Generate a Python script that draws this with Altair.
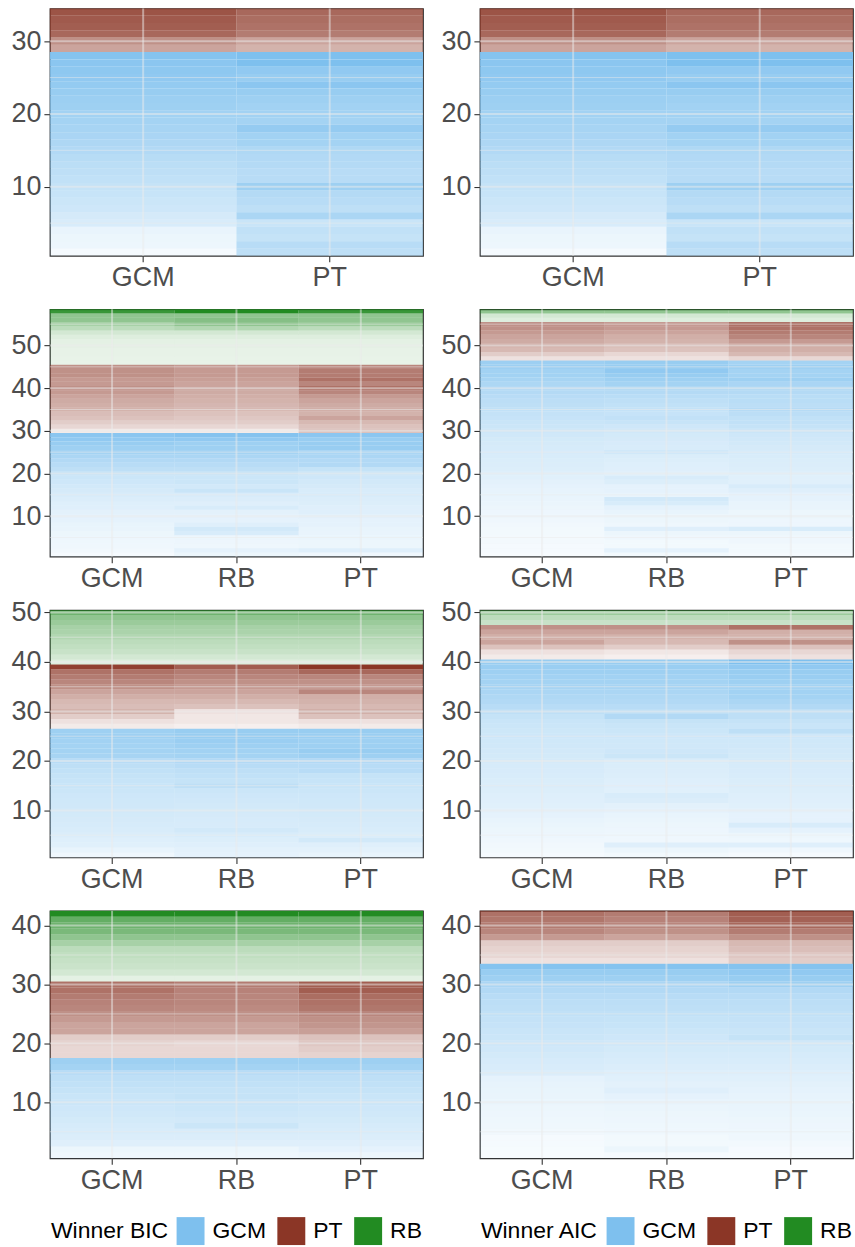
import altair as alt
import pandas as pd

FONT = "Liberation Sans"
WINNER_ORDER = ["GCM", "PT", "RB"]
WINNER_COLORS = ["#7EC0EE", "#8B3626", "#228B22"]
LABEL_GREY = "#4D4D4D"
FRAME = "#333333"
GRID = "#EBEBEB"

PANEL_W = 374
PANEL_H = 248

TWO = ["GCM", "PT"]
THREE = ["GCM", "RB", "PT"]

# Winner counts per panel, in the order GCM, PT, RB (participants stacked bottom-up)
bic_2m_counts = [28, 6, 0]
aic_2m_counts = [28, 6, 0]
bic_3a_counts = [29, 16, 13]
aic_3a_counts = [46, 9, 3]
bic_3b_counts = [26, 13, 11]
aic_3b_counts = [40, 7, 3]
bic_3c_counts = [17, 13, 12]
aic_3c_counts = [33, 9, 0]

# Cell weights (alpha), participant 1 upwards, one list per model column
bic_2m_gcm = [0.08, 0.14, 0.15, 0.17, 0.30, 0.33, 0.38, 0.40, 0.43, 0.45,
              0.48, 0.50, 0.53, 0.56, 0.60, 0.63, 0.66, 0.68, 0.70, 0.72,
              0.75, 0.77, 0.80, 0.83, 0.85, 0.88, 0.90, 0.95,
              0.45, 0.55, 0.75, 0.80, 0.82, 0.85]
bic_2m_pt = [0.50, 0.55, 0.45, 0.48, 0.42, 0.65, 0.50, 0.55, 0.58, 0.75,
             0.55, 0.55, 0.58, 0.60, 0.62, 0.70, 0.72, 0.82, 0.70, 0.72,
             0.72, 0.75, 0.80, 0.90, 0.80, 0.85, 1.00, 1.00,
             0.38, 0.45, 0.65, 0.70, 0.72, 0.75]
aic_2m_gcm = list(bic_2m_gcm)
aic_2m_pt = list(bic_2m_pt)

bic_3a_gcm = [0.08, 0.11, 0.12, 0.13, 0.14, 0.15, 0.17, 0.18, 0.20, 0.20,
              0.22, 0.25, 0.26, 0.28, 0.30, 0.33, 0.35, 0.38, 0.40, 0.45,
              0.50, 0.55, 0.60, 0.65, 0.70, 0.75, 0.80, 0.85, 0.90,
              0.10, 0.20, 0.25, 0.30, 0.33, 0.38, 0.40, 0.42, 0.45, 0.50,
              0.55, 0.50, 0.50, 0.55, 0.55, 0.55,
              0.10, 0.10, 0.11, 0.11, 0.12, 0.12, 0.15, 0.20, 0.30, 0.40,
              0.50, 0.50, 0.90]
bic_3a_rb = [0.15, 0.20, 0.13, 0.14, 0.15, 0.30, 0.35, 0.25, 0.20, 0.20,
             0.22, 0.30, 0.25, 0.28, 0.30, 0.42, 0.35, 0.40, 0.40, 0.45,
             0.50, 0.55, 0.60, 0.65, 0.70, 0.75, 0.75, 0.85, 0.95,
             0.10, 0.20, 0.25, 0.28, 0.30, 0.35, 0.36, 0.38, 0.40, 0.42,
             0.45, 0.45, 0.48, 0.50, 0.50, 0.50,
             0.10, 0.10, 0.11, 0.11, 0.12, 0.12, 0.15, 0.20, 0.35, 0.50,
             0.55, 0.50, 1.00]
bic_3a_pt = [0.12, 0.25, 0.15, 0.15, 0.16, 0.17, 0.18, 0.20, 0.20, 0.22,
             0.25, 0.25, 0.27, 0.28, 0.30, 0.30, 0.33, 0.35, 0.38, 0.40,
             0.45, 0.60, 0.60, 0.65, 0.65, 0.80, 0.80, 0.80, 0.90,
             0.30, 0.30, 0.35, 0.45, 0.38, 0.40, 0.42, 0.45, 0.50, 0.60,
             0.70, 0.60, 0.70, 0.65, 0.65, 0.60,
             0.10, 0.10, 0.11, 0.11, 0.12, 0.12, 0.15, 0.20, 0.30, 0.45,
             0.50, 0.50, 0.90]

aic_3a_gcm = [0.06, 0.08, 0.08, 0.09, 0.09, 0.10, 0.10, 0.11, 0.12, 0.13,
              0.14, 0.15, 0.16, 0.17, 0.18, 0.19, 0.20, 0.22, 0.24, 0.26,
              0.27, 0.28, 0.29, 0.30, 0.31, 0.32, 0.33, 0.34, 0.36, 0.38,
              0.40, 0.42, 0.44, 0.46, 0.48, 0.50, 0.52, 0.55, 0.58, 0.60,
              0.64, 0.68, 0.72, 0.72, 0.76, 0.76,
              0.15, 0.25, 0.35, 0.40, 0.42, 0.45, 0.50, 0.55, 0.55,
              0.15, 0.20, 0.50]
aic_3a_rb = [0.10, 0.20, 0.10, 0.10, 0.12, 0.15, 0.25, 0.13, 0.15, 0.15,
             0.18, 0.20, 0.30, 0.35, 0.18, 0.20, 0.20, 0.27, 0.30, 0.24,
             0.25, 0.26, 0.27, 0.29, 0.36, 0.30, 0.31, 0.33, 0.34, 0.36,
             0.38, 0.43, 0.47, 0.44, 0.46, 0.48, 0.50, 0.54, 0.58, 0.62,
             0.70, 0.75, 0.80, 0.85, 0.80, 0.80,
             0.15, 0.20, 0.30, 0.35, 0.38, 0.40, 0.45, 0.50, 0.50,
             0.15, 0.20, 0.50]
aic_3a_pt = [0.08, 0.10, 0.10, 0.12, 0.12, 0.15, 0.30, 0.14, 0.14, 0.15,
             0.15, 0.17, 0.18, 0.20, 0.20, 0.25, 0.30, 0.24, 0.24, 0.26,
             0.27, 0.28, 0.29, 0.30, 0.32, 0.33, 0.35, 0.36, 0.38, 0.41,
             0.45, 0.48, 0.48, 0.52, 0.57, 0.52, 0.54, 0.54, 0.58, 0.62,
             0.66, 0.75, 0.70, 0.70, 0.75, 0.70,
             0.20, 0.35, 0.40, 0.45, 0.50, 0.60, 0.65, 0.70, 0.70,
             0.15, 0.20, 0.50]

bic_3b_gcm = [0.12, 0.18, 0.24, 0.26, 0.28, 0.30, 0.32, 0.33, 0.34, 0.35,
              0.36, 0.37, 0.38, 0.40, 0.42, 0.43, 0.45, 0.48, 0.50, 0.55,
              0.68, 0.70, 0.70, 0.72, 0.75, 0.75,
              0.10, 0.15, 0.25, 0.38, 0.33, 0.35, 0.40, 0.45, 0.55, 0.60,
              0.65, 0.70, 0.95,
              0.15, 0.20, 0.25, 0.28, 0.30, 0.35, 0.38, 0.40, 0.45, 0.50,
              0.65]
bic_3b_rb = [0.20, 0.22, 0.25, 0.27, 0.30, 0.35, 0.31, 0.32, 0.33, 0.34,
             0.35, 0.36, 0.38, 0.40, 0.50, 0.45, 0.48, 0.50, 0.55, 0.60,
             0.70, 0.72, 0.75, 0.78, 0.80, 0.80,
             0.08, 0.12, 0.12, 0.15, 0.30, 0.35, 0.40, 0.45, 0.50, 0.55,
             0.60, 0.65, 0.80,
             0.15, 0.20, 0.25, 0.28, 0.30, 0.35, 0.38, 0.40, 0.45, 0.50,
             0.65]
bic_3b_pt = [0.18, 0.22, 0.25, 0.35, 0.28, 0.30, 0.32, 0.33, 0.34, 0.35,
             0.36, 0.37, 0.38, 0.40, 0.42, 0.43, 0.45, 0.55, 0.55, 0.60,
             0.75, 0.80, 0.75, 0.75, 0.78, 0.80,
             0.10, 0.15, 0.30, 0.40, 0.35, 0.38, 0.40, 0.60, 0.50, 0.55,
             0.60, 0.75, 1.00,
             0.15, 0.20, 0.25, 0.28, 0.30, 0.35, 0.38, 0.40, 0.45, 0.50,
             0.65]

aic_3b_gcm = [0.08, 0.10, 0.11, 0.12, 0.14, 0.15, 0.16, 0.18, 0.20, 0.22,
              0.24, 0.25, 0.26, 0.27, 0.28, 0.29, 0.30, 0.31, 0.32, 0.33,
              0.34, 0.35, 0.36, 0.37, 0.38, 0.39, 0.40, 0.42, 0.45, 0.50,
              0.55, 0.60, 0.62, 0.65, 0.68, 0.70, 0.72, 0.75, 0.78, 0.80,
              0.10, 0.15, 0.30, 0.45, 0.40, 0.45, 0.55,
              0.25, 0.30, 0.45]
aic_3b_rb = [0.10, 0.15, 0.25, 0.12, 0.13, 0.14, 0.15, 0.16, 0.18, 0.20,
             0.22, 0.28, 0.30, 0.24, 0.25, 0.26, 0.27, 0.28, 0.29, 0.30,
             0.40, 0.38, 0.36, 0.37, 0.38, 0.40, 0.42, 0.45, 0.60, 0.50,
             0.55, 0.60, 0.62, 0.65, 0.68, 0.70, 0.72, 0.75, 0.78, 0.80,
             0.08, 0.12, 0.25, 0.35, 0.38, 0.45, 0.55,
             0.25, 0.30, 0.45]
aic_3b_pt = [0.08, 0.12, 0.25, 0.13, 0.15, 0.20, 0.30, 0.20, 0.20, 0.22,
             0.24, 0.25, 0.26, 0.27, 0.28, 0.29, 0.30, 0.31, 0.32, 0.33,
             0.34, 0.35, 0.36, 0.37, 0.38, 0.50, 0.42, 0.45, 0.50, 0.50,
             0.60, 0.65, 0.70, 0.72, 0.70, 0.75, 0.78, 0.80, 0.85, 1.00,
             0.15, 0.20, 0.30, 0.55, 0.38, 0.40, 0.70,
             0.25, 0.30, 0.45]

bic_3c_gcm = [0.12, 0.15, 0.25, 0.28, 0.30, 0.32, 0.34, 0.36, 0.38, 0.40,
              0.42, 0.45, 0.48, 0.50, 0.55, 0.70, 0.75,
              0.20, 0.20, 0.22, 0.25, 0.45, 0.45, 0.50, 0.55, 0.60, 0.62,
              0.65, 0.70, 0.70,
              0.12, 0.20, 0.24, 0.26, 0.28, 0.30, 0.40, 0.50, 0.60, 0.65,
              0.70, 1.00]
bic_3c_rb = [0.12, 0.15, 0.25, 0.28, 0.30, 0.40, 0.35, 0.38, 0.40, 0.42,
             0.45, 0.45, 0.48, 0.50, 0.55, 0.70, 0.75,
             0.20, 0.20, 0.20, 0.25, 0.45, 0.45, 0.50, 0.55, 0.58, 0.60,
             0.60, 0.62, 0.65,
             0.12, 0.20, 0.24, 0.26, 0.28, 0.30, 0.40, 0.50, 0.60, 0.65,
             0.70, 1.00]
bic_3c_pt = [0.15, 0.20, 0.25, 0.28, 0.30, 0.32, 0.34, 0.36, 0.38, 0.40,
             0.42, 0.45, 0.48, 0.50, 0.55, 0.70, 0.75,
             0.22, 0.25, 0.28, 0.30, 0.48, 0.52, 0.55, 0.60, 0.68, 0.70,
             0.72, 0.80, 0.80,
             0.12, 0.20, 0.24, 0.26, 0.28, 0.30, 0.40, 0.50, 0.60, 0.65,
             0.70, 1.00]

aic_3c_gcm = [0.06, 0.07, 0.08, 0.08, 0.11, 0.12, 0.13, 0.14, 0.15, 0.16,
              0.17, 0.18, 0.19, 0.20, 0.28, 0.30, 0.32, 0.34, 0.36, 0.38,
              0.40, 0.42, 0.44, 0.46, 0.48, 0.50, 0.52, 0.55, 0.60, 0.65,
              0.75, 0.80, 0.95,
              0.15, 0.20, 0.22, 0.25, 0.50, 0.60, 0.65, 0.68, 0.70]
aic_3c_rb = [0.08, 0.15, 0.10, 0.10, 0.12, 0.13, 0.14, 0.15, 0.16, 0.18,
             0.20, 0.25, 0.22, 0.24, 0.26, 0.28, 0.30, 0.32, 0.34, 0.36,
             0.38, 0.40, 0.43, 0.45, 0.48, 0.50, 0.52, 0.55, 0.60, 0.65,
             0.75, 0.80, 0.95,
             0.15, 0.20, 0.22, 0.25, 0.45, 0.55, 0.60, 0.62, 0.65]
aic_3c_pt = [0.07, 0.08, 0.10, 0.12, 0.13, 0.14, 0.15, 0.16, 0.17, 0.18,
             0.19, 0.20, 0.22, 0.24, 0.26, 0.28, 0.30, 0.32, 0.34, 0.36,
             0.45, 0.42, 0.44, 0.46, 0.48, 0.50, 0.52, 0.55, 0.60, 0.75,
             0.80, 0.85, 0.95,
             0.25, 0.28, 0.32, 0.35, 0.55, 0.65, 0.75, 0.78, 0.80]

PANELS = [
    (bic_2m_counts, TWO, {"GCM": bic_2m_gcm, "PT": bic_2m_pt}, None),
    (aic_2m_counts, TWO, {"GCM": aic_2m_gcm, "PT": aic_2m_pt}, None),
    (bic_3a_counts, THREE, {"GCM": bic_3a_gcm, "RB": bic_3a_rb, "PT": bic_3a_pt}, None),
    (aic_3a_counts, THREE, {"GCM": aic_3a_gcm, "RB": aic_3a_rb, "PT": aic_3a_pt}, None),
    (bic_3b_counts, THREE, {"GCM": bic_3b_gcm, "RB": bic_3b_rb, "PT": bic_3b_pt}, None),
    (aic_3b_counts, THREE, {"GCM": aic_3b_gcm, "RB": aic_3b_rb, "PT": aic_3b_pt}, None),
    (bic_3c_counts, THREE, {"GCM": bic_3c_gcm, "RB": bic_3c_rb, "PT": bic_3c_pt}, "Winner BIC"),
    (aic_3c_counts, THREE, {"GCM": aic_3c_gcm, "RB": aic_3c_rb, "PT": aic_3c_pt}, "Winner AIC"),
]


def axis_style(**extra):
    return alt.Axis(labelFont=FONT, labelFontSize=27, labelColor=LABEL_GREY,
                    tickColor=FRAME, tickSize=6, tickWidth=1.1, labelPadding=3,
                    domain=False, grid=False, title=None, **extra)


def build_panel(counts, models, cols, legend_title):
    n = sum(counts)
    winners = []
    for name, k in zip(WINNER_ORDER, counts):
        winners += [name] * k
    recs = []
    for m in models:
        vals = cols[m]
        assert len(vals) == n, (m, len(vals), n)
        for i, w in enumerate(vals):
            recs.append({"participant": i + 1, "model": m,
                         "winner": winners[i], "weight": w})
    df = pd.DataFrame(recs)

    major = [t for t in (10, 20, 30, 40, 50) if t <= n]
    minor = [t for t in (5, 15, 25, 35, 45, 55) if t <= n]

    xscale = alt.Scale(domain=models, paddingInner=0, paddingOuter=0)
    yscale = alt.Scale(domain=[0.5, n + 0.5], nice=False, zero=False)
    xaxis = axis_style(labelAngle=0)
    yaxis = axis_style(values=major)

    if legend_title:
        legend = alt.Legend(
            title=legend_title, orient="none", legendX=1, legendY=307,
            direction="horizontal", titleOrient="left",
            symbolType="square", symbolSize=784, symbolStrokeWidth=0,
            symbolOpacity=1, labelFont=FONT, titleFont=FONT,
            labelFontSize=23, titleFontSize=23, titleFontWeight="normal",
            labelColor="black", titleColor="black", labelOffset=8,
            columnPadding=11, titlePadding=8, padding=0)
    else:
        legend = None

    tiles = alt.Chart(df).transform_calculate(
        lo="datum.participant - 0.5", hi="datum.participant + 0.5"
    ).mark_rect().encode(
        x=alt.X("model:N", sort=models, scale=xscale, axis=xaxis),
        y=alt.Y("lo:Q", scale=yscale, axis=yaxis),
        y2="hi:Q",
        color=alt.Color("winner:N",
                        scale=alt.Scale(domain=WINNER_ORDER, range=WINNER_COLORS),
                        legend=legend),
        opacity=alt.Opacity("weight:Q", scale=None),
    )

    # grid lines sit over the translucent tiles
    minor_grid = alt.Chart(pd.DataFrame({"lo": minor})).mark_rule(
        color=GRID, strokeWidth=1, opacity=0.5
    ).encode(y=alt.Y("lo:Q", scale=yscale, axis=yaxis))
    major_grid = alt.Chart(pd.DataFrame({"lo": major})).mark_rule(
        color=GRID, strokeWidth=2, opacity=0.5
    ).encode(y=alt.Y("lo:Q", scale=yscale, axis=yaxis))
    col_grid = alt.Chart(pd.DataFrame({"model": models})).mark_rule(
        color=GRID, strokeWidth=2, opacity=0.5
    ).encode(x=alt.X("model:N", sort=models, scale=xscale, axis=xaxis))

    return alt.layer(tiles, minor_grid, major_grid, col_grid).properties(
        width=PANEL_W, height=PANEL_H)


panels = [build_panel(*p) for p in PANELS]

chart = alt.concat(
    *panels, columns=2, spacing={"row": 53.5, "column": 57}, bounds="flush"
).resolve_scale(color="independent").resolve_legend(color="independent").properties(
    padding={"left": 10, "top": 5, "right": 0, "bottom": 0},
    background="white",
).configure_view(stroke=FRAME, strokeWidth=1.2)

chart.save("out.html", embed_options={"renderer": "svg", "actions": False})
